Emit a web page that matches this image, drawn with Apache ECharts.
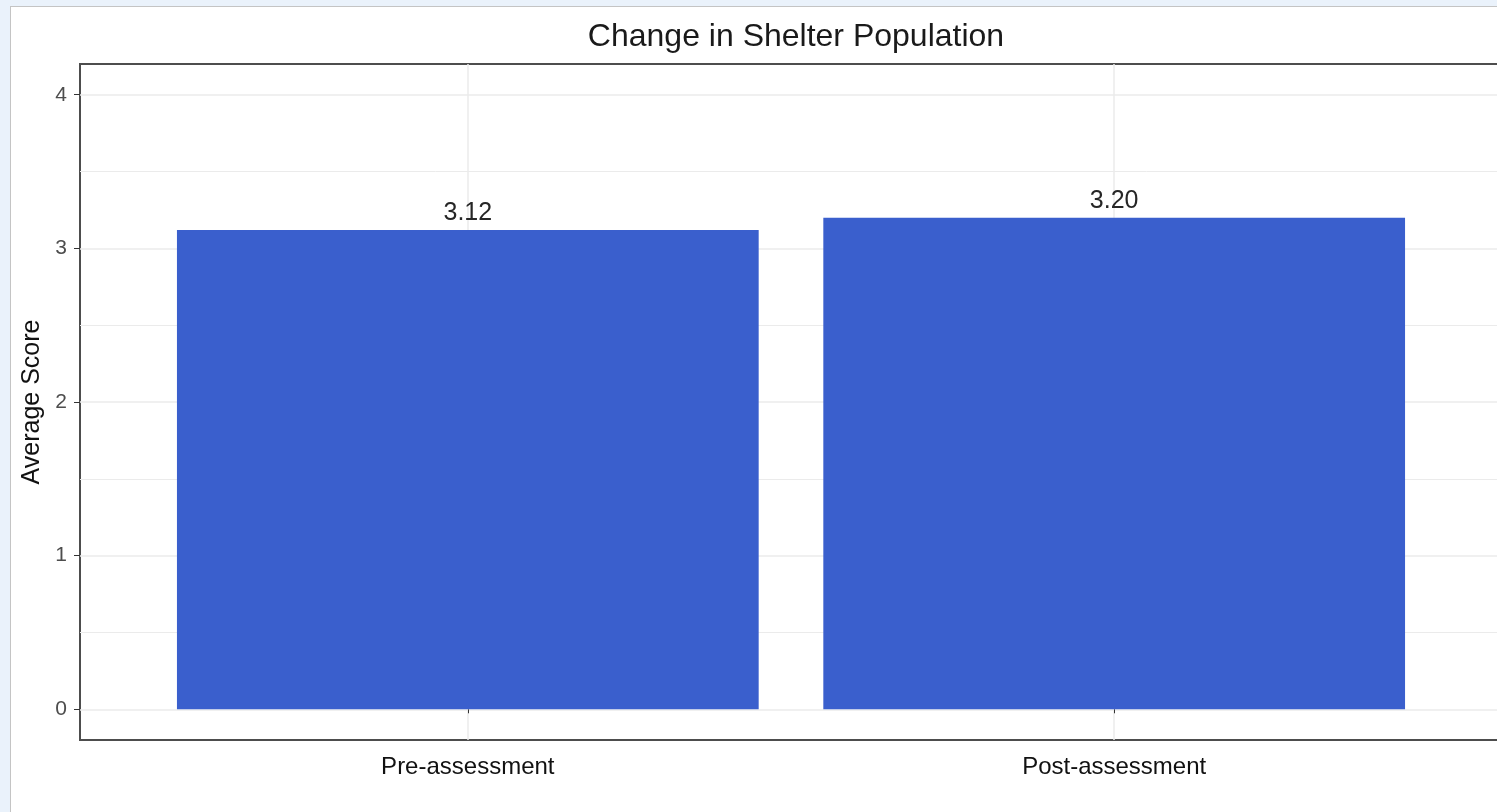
<!DOCTYPE html>
<html>
<head>
<meta charset="utf-8">
<script src="https://cdn.jsdelivr.net/npm/echarts@6/dist/echarts.min.js"></script>
<style>
  html, body { margin: 0; padding: 0; background: #eaf2fb; overflow: hidden; width: 1497px; height: 812px; }
  #frame { position: absolute; left: 10px; top: 6px; width: 1600px; height: 900px;
           background: #fff; border: 1px solid #c4c4c4; }
  /* panel runs past the right edge of the window, as in the original screenshot */
  #chart { position: absolute; left: 0; top: 0; width: 1502px; height: 812px; }
</style>
</head>
<body>
<div id="frame"></div>
<div id="chart"></div>
<script>
const title = "Change in Shelter Population";
const categories = ["Pre-assessment", "Post-assessment"];
const scores = [3.12, 3.20];
const yTicks = [0, 1, 2, 3, 4];
const yMinorTicks = [0.5, 1.5, 2.5, 3.5];

const font = "Liberation Sans, Arial, sans-serif";
const gridColor = "#ebebeb";

const barData = scores.map((v, i) => [i + 1, v]);
const xPositions = categories.map((c, i) => i + 1);

const option = {
  animation: false,
  backgroundColor: "transparent",
  textStyle: { fontFamily: font },
  title: {
    text: title,
    left: 791,
    textAlign: "center",
    top: 16,
    textStyle: { fontSize: 32, fontWeight: "normal", color: "#1a1a1a", fontFamily: font },
  },
  grid: {
    left: 80,
    top: 64,
    bottom: 72,
    right: 0,
    outerBoundsMode: "none",
    show: true,
    borderColor: "#4d4d4d",
    borderWidth: 2,
    backgroundColor: "transparent",
  },
  xAxis: {
    type: "value",
    min: 0.4,
    max: 2.6,
    axisLine: { show: false },
    axisTick: { show: true, length: 4, customValues: xPositions, lineStyle: { color: "#333" } },
    axisLabel: {
      customValues: xPositions,
      formatter: (v) => categories[Math.round(v) - 1],
      fontSize: 24,
      color: "#111",
      margin: 15,
      fontFamily: font,
    },
    splitLine: { show: true, lineStyle: { color: gridColor, width: 1.5 } },
  },
  yAxis: [
    {
      type: "value",
      min: -0.2,
      max: 4.2,
      name: "Average Score",
      nameLocation: "middle",
      nameGap: 31,
      nameTextStyle: { fontSize: 25, color: "#111", fontFamily: font },
      axisLine: { show: false },
      axisTick: { show: true, length: 6, customValues: yTicks, lineStyle: { color: "#333" } },
      axisLabel: { customValues: yTicks, fontSize: 21, color: "#4d4d4d", margin: 13, fontFamily: font },
      splitLine: { show: true, lineStyle: { color: gridColor, width: 1.5 } },
    },
    {
      type: "value",
      min: -0.2,
      max: 4.2,
      position: "left",
      axisLine: { show: false },
      axisTick: { show: false, customValues: yMinorTicks },
      axisLabel: { show: false, customValues: yMinorTicks },
      splitLine: { show: true, lineStyle: { color: gridColor, width: 1 } },
    },
  ],
  series: [
    {
      type: "bar",
      data: barData,
      barWidth: "90%",
      itemStyle: { color: "#3a5fcd" },
      label: {
        show: true,
        position: "top",
        distance: 4,
        fontSize: 25,
        color: "#262626",
        fontFamily: font,
        formatter: (p) => p.value[1].toFixed(2),
      },
    },
  ],
};

const chart = echarts.init(document.getElementById("chart"));
chart.setOption(option);
</script>
</body>
</html>
